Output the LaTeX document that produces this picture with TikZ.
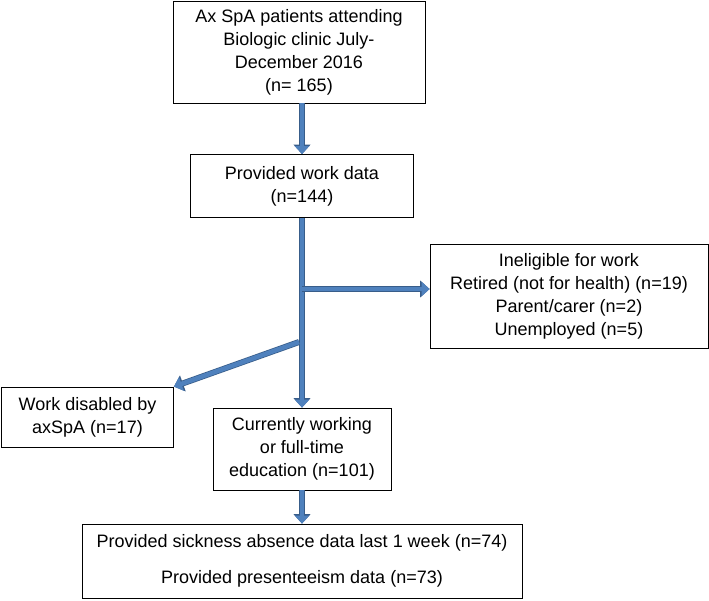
\documentclass[tikz,border=0pt]{standalone}
\usepackage{fontspec}
\setmainfont{Liberation Sans}
\usepackage{tikz}
\usetikzlibrary{positioning}
\usetikzlibrary{arrows.meta}

\definecolor{arrowfill}{RGB}{79,129,189}
\definecolor{arrowline}{RGB}{56,93,138}

\begin{document}
\begin{tikzpicture}[x=1pt,y=-1pt,
  every node/.style={draw,thick,align=center,inner sep=2pt,font=\fontsize{18}{23}\selectfont},
  flowarrow/.style={line width=4.5pt,draw=arrowfill,-{Triangle[length=8pt,width=14pt]},
    preaction={draw=arrowline,line width=6pt,-{Triangle[length=9.5pt,width=16.5pt]}}}]
\useasboundingbox (0,0) rectangle (709,600);
\node[minimum width=252pt,minimum height=102pt] (clinic) at (299,52)
  {Ax SpA patients attending\\Biologic clinic July-\\December 2016\\(n= 165)};
\node[minimum width=223pt,minimum height=63pt] (workdata) at (302,186)
  {Provided work data\\(n=144)};
\node[minimum width=278pt,minimum height=104pt] (inelig) at (569,296.5)
  {Ineligible for work\\Retired (not for health) (n=19)\\Parent/carer (n=2)\\Unemployed (n=5)};
\node[minimum width=172pt,minimum height=60pt] (disabled) at (87.5,417)
  {Work disabled by\\axSpA (n=17)};
\node[minimum width=178pt,minimum height=82pt] (working) at (302,449)
  {Currently working\\or full-time\\education (n=101)};
\node[minimum width=440pt,minimum height=74pt] (sickness) at (302,561)
  {Provided sickness absence data last 1 week (n=74)\\[13pt]
   Provided presenteeism data (n=73)};
\coordinate (split1) at (302,289);
\coordinate (split2) at (299,342);
\draw[flowarrow] (clinic.south -| workdata.north) -- (workdata.north);
\draw[flowarrow] (workdata.south) -- (working.north);
\draw[flowarrow] (split1) -- (split1 -| inelig.west);
\draw[flowarrow] (split2) -- (disabled.north east);
\draw[flowarrow] (working.south) -- (working.south |- sickness.north);
\end{tikzpicture}
\end{document}
